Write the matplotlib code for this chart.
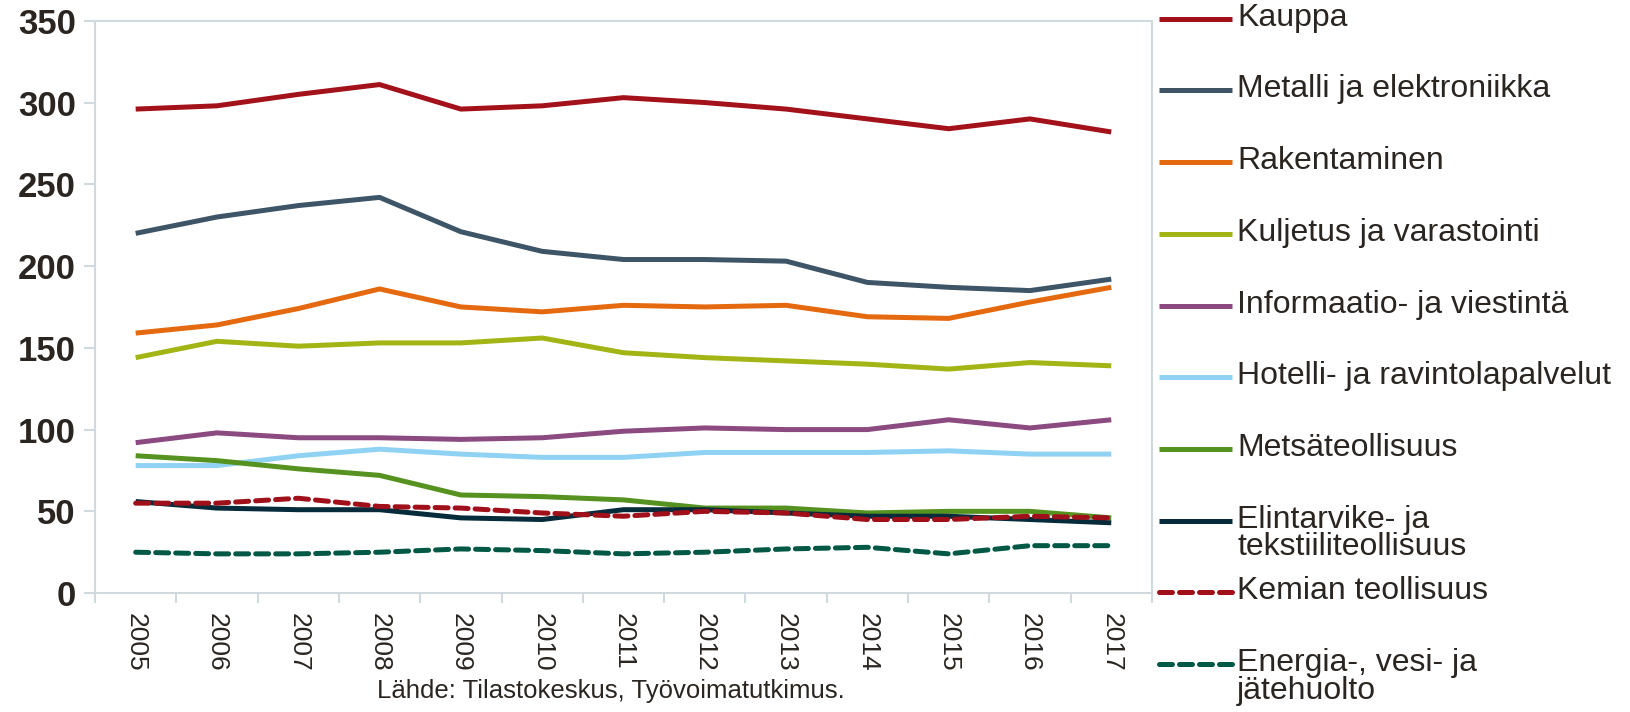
import numpy as np
import matplotlib
matplotlib.use('Agg')
import matplotlib.pyplot as plt
from matplotlib.lines import Line2D

plt.rcParams['font.family'] = ['Liberation Sans', 'DejaVu Sans']

years = ['2005', '2006', '2007', '2008', '2009', '2010', '2011',
         '2012', '2013', '2014', '2015', '2016', '2017']

kauppa = [296, 298, 305, 311, 296, 298, 303, 300, 296, 290, 284, 290, 282]
metalli = [220, 230, 237, 242, 221, 209, 204, 204, 203, 190, 187, 185, 192]
rakentaminen = [159, 164, 174, 186, 175, 172, 176, 175, 176, 169, 168, 178, 187]
kuljetus = [144, 154, 151, 153, 153, 156, 147, 144, 142, 140, 137, 141, 139]
informaatio = [92, 98, 95, 95, 94, 95, 99, 101, 100, 100, 106, 101, 106]
hotelli = [78, 78, 84, 88, 85, 83, 83, 86, 86, 86, 87, 85, 85]
metsa = [84, 81, 76, 72, 60, 59, 57, 52, 52, 49, 50, 50, 46]
elintarvike = [56, 52, 51, 51, 46, 45, 51, 51, 49, 47, 47, 45, 43]
kemian = [55, 55, 58, 53, 52, 49, 47, 50, 49, 45, 45, 47, 46]
energia = [25, 24, 24, 25, 27, 26, 24, 25, 27, 28, 24, 29, 29]

labels = ['Kauppa', 'Metalli ja elektroniikka', 'Rakentaminen',
          'Kuljetus ja varastointi', 'Informaatio- ja viestintä',
          'Hotelli- ja ravintolapalvelut', 'Metsäteollisuus',
          'Elintarvike- ja\ntekstiiliteollisuus', 'Kemian teollisuus',
          'Energia-, vesi- ja\njätehuolto']
series = [kauppa, metalli, rakentaminen, kuljetus, informaatio,
          hotelli, metsa, elintarvike, kemian, energia]
colors = ['#A3121A', '#3E5568', '#E4690F', '#A2B515', '#8B4A80',
          '#8FD2F4', '#55921F', '#062B3B', '#A0101A', '#005845']
dashed = [False] * 8 + [True, True]

fig = plt.figure(figsize=(16.3, 7.12), dpi=100)
ax = fig.add_axes([0.0583, 0.167, 0.6484, 0.8038])

x = np.arange(len(years))
dash = (0, (2.6, 1.4))
for vals, c, d in zip(series, colors, dashed):
    ax.plot(x, vals, color=c, lw=3.6,
            linestyle=dash if d else '-',
            dash_capstyle='round', solid_capstyle='butt')

spine_c = '#D0D9DE'
for s in ax.spines.values():
    s.set_color(spine_c)
    s.set_linewidth(1.5)

ax.set_xlim(-0.5, len(years) - 0.5)
ax.set_ylim(0, 350)
ax.set_yticks(np.arange(0, 351, 50))
ax.tick_params(axis='y', length=8, width=1.5, color=spine_c, pad=6,
               labelsize=25, labelcolor='#2A2520')
for t in ax.get_yticklabels():
    t.set_fontweight('bold')

ax.set_xticks(np.arange(-0.5, len(years), 1))
ax.set_xticklabels([])
ax.tick_params(axis='x', which='major', length=7, width=1.5, color=spine_c)
ax.set_xticks(x, minor=True)
ax.set_xticklabels(years, minor=True, rotation=270, fontsize=19,
                   color='#2A2520')
ax.tick_params(axis='x', which='minor', length=0, pad=14)

# legend drawn by hand so two-line labels hang from the handle
y0 = 1 - 18.7 / 712
step = 71.7 / 712
for i, (lab, c, d) in enumerate(zip(labels, colors, dashed)):
    yy = y0 - i * step
    fig.add_artist(Line2D([1159 / 1630, 1232 / 1630], [yy, yy], color=c,
                          lw=3.6, linestyle=dash if d else '-',
                          dash_capstyle='round', solid_capstyle='butt'))
    fig.text(1237 / 1630, yy + 16 / 712, lab, fontsize=23, va='top',
             ha='left', color='#2A2520', linespacing=0.9)

fig.text(611 / 1630, 1 - 691 / 712,
         'Lähde: Tilastokeskus, Työvoimatutkimus.', fontsize=18.5,
         ha='center', va='center', color='#2A2520')

fig.savefig('out.png', dpi=100)
